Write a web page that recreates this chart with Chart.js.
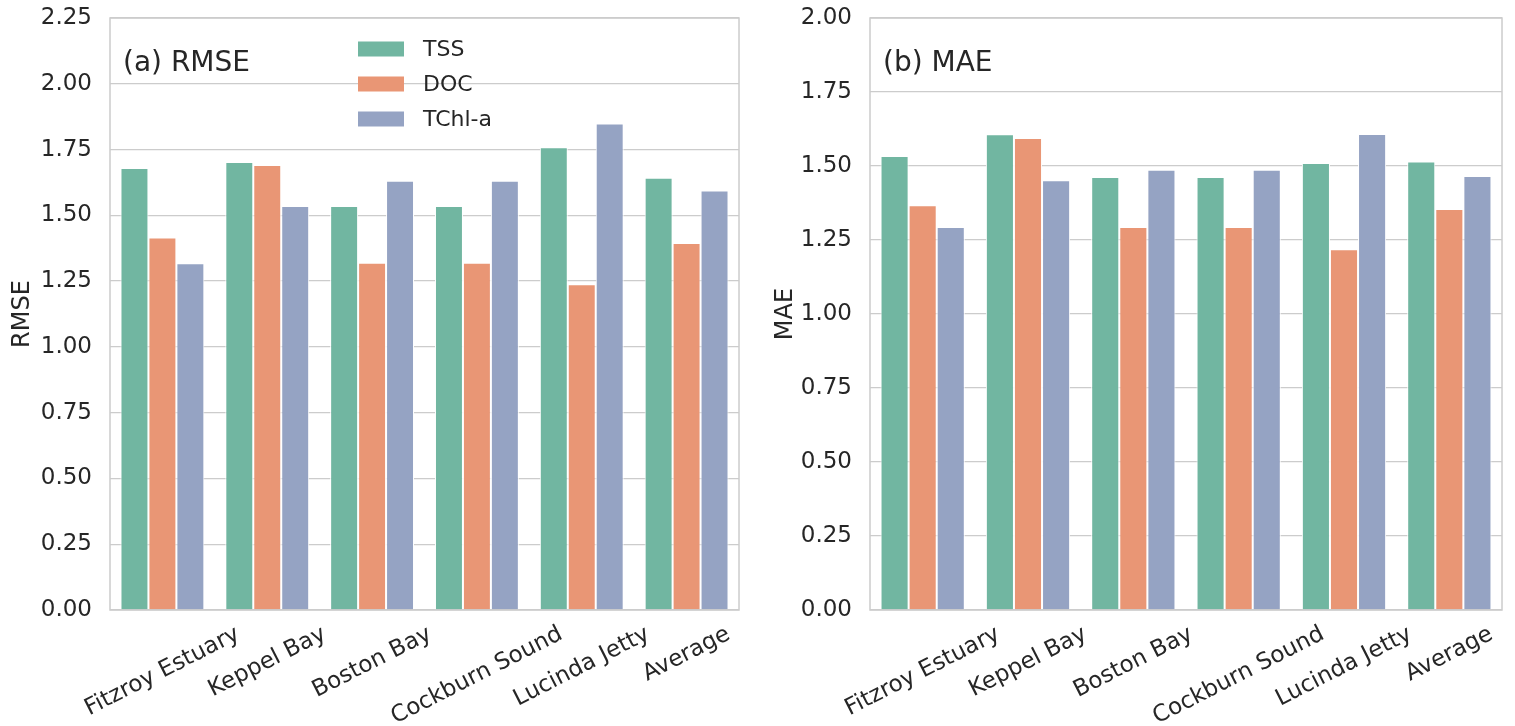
<!DOCTYPE html>
<html>
<head>
<meta charset="utf-8">
<script src="https://cdn.jsdelivr.net/npm/chart.js@4.4.1/dist/chart.umd.min.js"></script>
<style>
  html, body { margin: 0; padding: 0; background: #ffffff; }
  #wrap { position: relative; width: 1515px; height: 726px; overflow: hidden; }
  canvas { position: absolute; top: 0; }
</style>
</head>
<body>
<div id="wrap">
  <canvas id="rmse" width="757" height="726" style="left:0px;width:757px;height:726px"></canvas>
  <canvas id="mae" width="758" height="726" style="left:757px;width:758px;height:726px"></canvas>
</div>
<script>
// Sites and the three water-quality products
const categories = ['Fitzroy Estuary', 'Keppel Bay', 'Boston Bay', 'Cockburn Sound', 'Lucinda Jetty', 'Average'];
const seriesNames = ['TSS', 'DOC', 'TChl-a'];

// (a) RMSE per site
const rmseTSS  = [1.680, 1.703, 1.535, 1.535, 1.759, 1.643];
const rmseDOC  = [1.416, 1.691, 1.320, 1.320, 1.238, 1.395];
const rmseTChl = [1.318, 1.535, 1.631, 1.631, 1.849, 1.594];

// (b) MAE per site
const maeTSS  = [1.534, 1.607, 1.463, 1.463, 1.510, 1.515];
const maeDOC  = [1.367, 1.595, 1.294, 1.294, 1.219, 1.355];
const maeTChl = [1.294, 1.452, 1.487, 1.487, 1.608, 1.466];

// Axis ranges / tick spacing
const rmseMax = 2.25;
const maeMax = 2.00;
const tickStep = 0.25;

const seriesColors = ['#71b6a1', '#e99675', '#95a3c3'];
const FONT = '"DejaVu Sans", sans-serif';
const TEXT = '#262626';
const FRAME = '#cccccc';

// Frame, panel title, optional legend and rotated, centred category labels
function panelPlugin(cfg) {
  return {
    id: 'panelDecor' + cfg.key,
    afterDatasetsDraw(chart) {
      const ctx = chart.ctx;
      const a = chart.chartArea;
      ctx.save();
      ctx.strokeStyle = FRAME;
      ctx.lineWidth = 1.5;
      ctx.strokeRect(a.left, a.top, a.right - a.left, a.bottom - a.top);
      ctx.restore();
    },
    afterDraw(chart) {
      const ctx = chart.ctx;
      const a = chart.chartArea;
      const xs = chart.scales.x;
      ctx.save();
      // panel title
      ctx.fillStyle = TEXT;
      ctx.font = '28px ' + FONT;
      ctx.textAlign = 'left';
      ctx.textBaseline = 'alphabetic';
      ctx.fillText(cfg.title, a.left + 13, a.top + 53);

      // legend
      if (cfg.legend) {
        ctx.font = '22px ' + FONT;
        ctx.textBaseline = 'middle';
        chart.data.datasets.forEach((ds, i) => {
          const y = a.top + 31 + i * 35;
          ctx.fillStyle = ds.backgroundColor;
          ctx.fillRect(a.left + 248, y - 7.5, 46, 15);
          ctx.fillStyle = TEXT;
          ctx.fillText(ds.label, a.left + 313, y + 1);
        });
      }

      // category labels, rotated about their centre
      const fs = 23;
      const th = 27 * Math.PI / 180;
      ctx.font = fs + 'px ' + FONT;
      ctx.fillStyle = TEXT;
      ctx.textAlign = 'center';
      ctx.textBaseline = 'middle';
      chart.data.labels.forEach((lab, i) => {
        const w = ctx.measureText(lab).width;
        const h = fs * 1.16;
        const H = w * Math.sin(th) + h * Math.cos(th);
        const cx = xs.getPixelForValue(i);
        const cy = a.bottom + 11 + H / 2;
        ctx.save();
        ctx.translate(cx, cy);
        ctx.rotate(-th);
        ctx.fillText(lab, 0, 0);
        ctx.restore();
      });
      ctx.restore();
    }
  };
}

function makeChart(id, cfg) {
  const datasets = cfg.values.map((vals, i) => ({
    label: seriesNames[i],
    data: vals,
    backgroundColor: seriesColors[i],
    borderColor: '#ffffff',
    borderWidth: 1,
    categoryPercentage: 0.8,
    barPercentage: 1.0
  }));
  return new Chart(document.getElementById(id), {
    type: 'bar',
    data: { labels: categories, datasets },
    options: {
      responsive: false,
      animation: false,
      layout: { padding: { left: 0, right: cfg.padRight, top: 18, bottom: 0 } },
      plugins: { legend: { display: false }, tooltip: { enabled: false } },
      scales: {
        x: {
          type: 'category',
          offset: true,
          grid: { display: false },
          border: { display: false },
          ticks: { display: false },
          afterFit(scale) { scale.height = 116; }
        },
        y: {
          min: 0,
          max: cfg.max,
          border: { display: false },
          grid: {
            color: FRAME,
            lineWidth: 1.25,
            drawTicks: true,
            tickLength: 16,
            tickColor: 'rgba(0,0,0,0)'
          },
          ticks: {
            stepSize: tickStep,
            padding: 2,
            color: TEXT,
            font: { family: FONT, size: 23 },
            callback: (v) => Number(v).toFixed(2)
          },
          title: {
            display: true,
            text: cfg.yTitle,
            color: TEXT,
            font: { family: FONT, size: 24 },
            padding: { top: cfg.titlePad, bottom: 0 }
          },
          afterFit(scale) { scale.width = cfg.yWidth; }
        }
      }
    },
    plugins: [panelPlugin(cfg)]
  });
}

makeChart('rmse', {
  key: 'A', title: '(a) RMSE', legend: true, yTitle: 'RMSE',
  values: [rmseTSS, rmseDOC, rmseTChl], max: rmseMax,
  yWidth: 110, padRight: 18, titlePad: 8
});
makeChart('mae', {
  key: 'B', title: '(b) MAE', legend: false, yTitle: 'MAE',
  values: [maeTSS, maeDOC, maeTChl], max: maeMax,
  yWidth: 113, padRight: 13, titlePad: 14
});
</script>
</body>
</html>
